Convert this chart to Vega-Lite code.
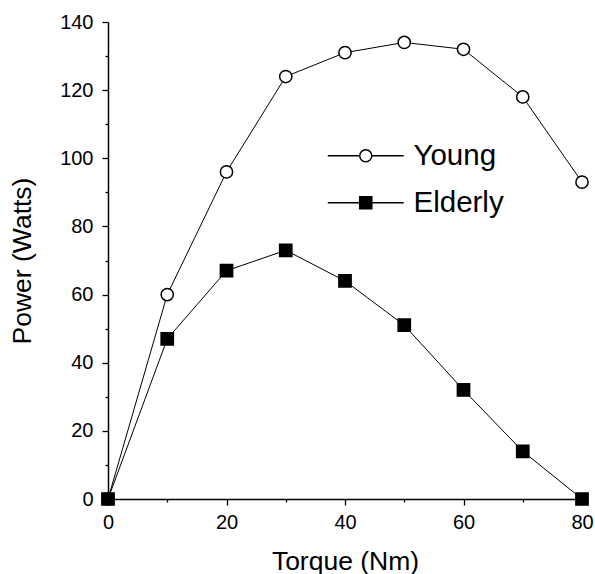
{
  "$schema": "https://vega.github.io/schema/vega-lite/v6.json",
  "width": 474,
  "height": 477,
  "autosize": "none",
  "padding": {"left": 108, "top": 22, "right": 13, "bottom": 75},
  "background": "white",
  "config": {
    "view": {"stroke": null},
    "font": "Liberation Sans",
    "axis": {
      "domainColor": "black",
      "domainWidth": 1.5,
      "tickColor": "black",
      "tickWidth": 1.3,
      "grid": false,
      "labelFont": "Liberation Sans",
      "labelFontSize": 20,
      "labelColor": "black",
      "titleFont": "Liberation Sans",
      "titleFontSize": 26.5,
      "titleFontWeight": "normal",
      "titleColor": "black"
    }
  },
  "data": {
    "values": [
      {"torque": 0, "power": 0, "group": "Young"},
      {"torque": 10, "power": 60, "group": "Young"},
      {"torque": 20, "power": 96, "group": "Young"},
      {"torque": 30, "power": 124, "group": "Young"},
      {"torque": 40, "power": 131, "group": "Young"},
      {"torque": 50, "power": 134, "group": "Young"},
      {"torque": 60, "power": 132, "group": "Young"},
      {"torque": 70, "power": 118, "group": "Young"},
      {"torque": 80, "power": 93, "group": "Young"},
      {"torque": 0, "power": 0, "group": "Elderly"},
      {"torque": 10, "power": 47, "group": "Elderly"},
      {"torque": 20, "power": 67, "group": "Elderly"},
      {"torque": 30, "power": 73, "group": "Elderly"},
      {"torque": 40, "power": 64, "group": "Elderly"},
      {"torque": 50, "power": 51, "group": "Elderly"},
      {"torque": 60, "power": 32, "group": "Elderly"},
      {"torque": 70, "power": 14, "group": "Elderly"},
      {"torque": 80, "power": 0, "group": "Elderly"}
    ]
  },
  "encoding": {
    "x": {
      "field": "torque", "type": "quantitative",
      "scale": {"domain": [0, 80], "nice": false, "zero": true},
      "axis": {
        "title": "Torque (Nm)",
        "values": [0, 10, 20, 30, 40, 50, 60, 70, 80],
        "labelExpr": "datum.value % 20 === 0 ? datum.label : ''",
        "tickSize": {"condition": {"test": "datum.value % 20 === 0", "value": 6}, "value": 3},
        "labelPadding": 7,
        "titlePadding": 16,
        "labelFlush": false
      }
    },
    "y": {
      "field": "power", "type": "quantitative",
      "scale": {"domain": [0, 140], "nice": false},
      "axis": {
        "title": "Power (Watts)",
        "values": [0, 10, 20, 30, 40, 50, 60, 70, 80, 90, 100, 110, 120, 130, 140],
        "labelExpr": "datum.value % 20 === 0 ? datum.label : ''",
        "tickSize": {"condition": {"test": "datum.value % 20 === 0", "value": 6}, "value": 3},
        "labelPadding": 9,
        "titlePadding": 23,
        "labelFlush": false
      }
    }
  },
  "layer": [
    {
      "mark": {"type": "line", "color": "black", "strokeWidth": 1},
      "encoding": {"detail": {"field": "group", "type": "nominal"}}
    },
    {
      "mark": {"type": "point", "filled": false, "stroke": "black", "strokeWidth": 1.5, "opacity": 1},
      "encoding": {
        "shape": {
          "field": "group", "type": "nominal",
          "scale": {"domain": ["Young", "Elderly"], "range": ["circle", "square"]},
          "legend": null
        },
        "fill": {
          "field": "group", "type": "nominal",
          "scale": {"domain": ["Young", "Elderly"], "range": ["white", "black"]},
          "legend": null
        },
        "size": {"value": 150}
      }
    },
    {
      "mark": {"type": "point", "filled": false, "stroke": "black", "strokeWidth": 1.2, "opacity": 0},
      "encoding": {
        "shape": {
          "field": "group", "type": "nominal",
          "scale": {"domain": ["Young", "Elderly"], "range": [
            "M-3.45,0H-0.55M0.55,0H3.45M0.55,0A0.55,0.55,0,1,1,-0.55,0A0.55,0.55,0,1,1,0.55,0Z",
            "M-3.45,0H-0.55M0.55,0H3.45M-0.55,-0.55H0.55V0.55H-0.55Z"
          ]},
          "legend": {
            "title": null,
            "orient": "none",
            "legendX": 243,
            "legendY": 119,
            "padding": 0,
            "symbolSize": 484,
            "symbolOpacity": 1,
            "labelOffset": 33,
            "labelFontSize": 29.5,
            "labelFont": "Liberation Sans",
            "labelColor": "black",
            "rowPadding": 16,
            "encode": {
              "symbols": {
                "update": {
                  "stroke": {"value": "black"},
                  "strokeWidth": {"value": 1.2},
                  "opacity": {"value": 1},
                  "strokeOpacity": {"value": 1}
                }
              }
            }
          }
        },
        "fill": {
          "field": "group", "type": "nominal",
          "scale": {"domain": ["Young", "Elderly"], "range": ["white", "black"]},
          "legend": {
            "title": null,
            "orient": "none",
            "legendX": 243,
            "legendY": 119,
            "padding": 0,
            "symbolSize": 484,
            "symbolOpacity": 1,
            "labelOffset": 33,
            "labelFontSize": 29.5,
            "labelFont": "Liberation Sans",
            "labelColor": "black",
            "rowPadding": 16,
            "encode": {
              "symbols": {
                "update": {
                  "stroke": {"value": "black"},
                  "strokeWidth": {"value": 1.2},
                  "opacity": {"value": 1},
                  "strokeOpacity": {"value": 1}
                }
              }
            }
          }
        },
        "size": {"value": 484}
      }
    }
  ],
  "resolve": {"scale": {"shape": "independent", "fill": "independent"}, "legend": {"shape": "independent", "fill": "independent"}}
}
